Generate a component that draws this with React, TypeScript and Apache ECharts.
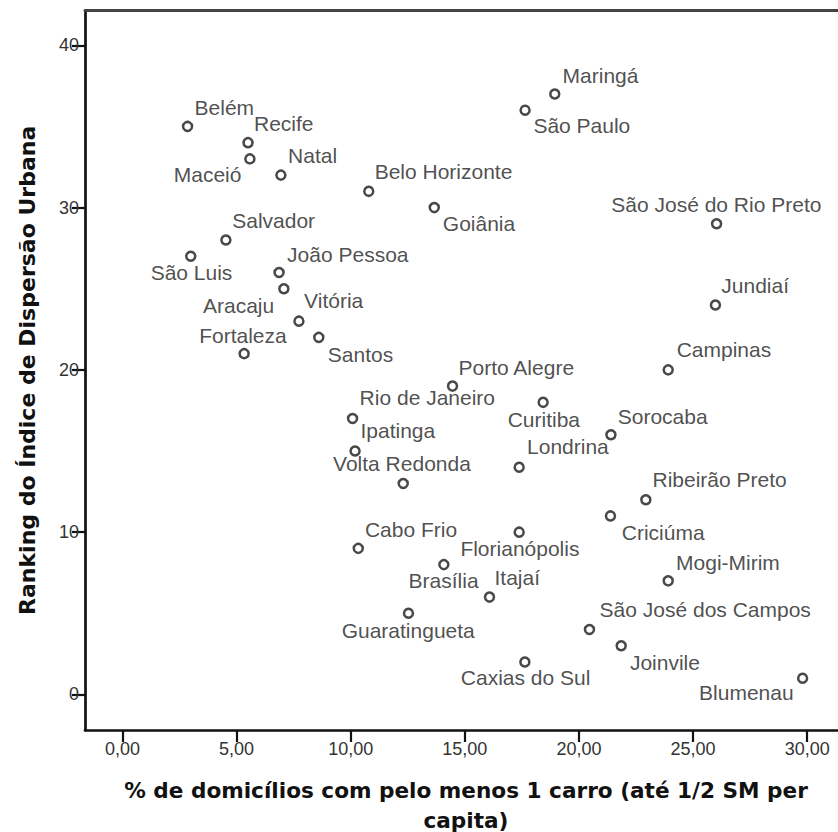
import React, { useEffect, useRef } from "react";
import * as echarts from "echarts";

const cities = [
  "Blumenau", "Caxias do Sul", "Joinvile", "São José dos Campos", "Guaratingueta",
  "Itajaí", "Mogi-Mirim", "Brasília", "Cabo Frio", "Florianópolis",
  "Criciúma", "Ribeirão Preto", "Volta Redonda", "Londrina", "Ipatinga",
  "Sorocaba", "Rio de Janeiro", "Curitiba", "Porto Alegre", "Campinas",
  "Fortaleza", "Santos", "Vitória", "Jundiaí", "Aracaju",
  "João Pessoa", "São Luis", "Salvador", "São José do Rio Preto", "Goiânia",
  "Belo Horizonte", "Natal", "Maceió", "Recife", "Belém",
  "São Paulo", "Maringá",
];

const pctCar = [
  29.80, 17.63, 21.85, 20.46, 12.53,
  16.08, 23.91, 14.08, 10.33, 17.38,
  21.38, 22.93, 12.30, 17.38, 10.19,
  21.40, 10.08, 18.43, 14.46, 23.91,
  5.33, 8.60, 7.73, 25.98, 7.07,
  6.86, 2.99, 4.53, 26.03, 13.66,
  10.79, 6.94, 5.58, 5.50, 2.85,
  17.64, 18.94,
];

const ranking = [
  1, 2, 3, 4, 5,
  6, 7, 8, 9, 10,
  11, 12, 13, 14, 15,
  16, 17, 18, 19, 20,
  21, 22, 23, 24, 25,
  26, 27, 28, 29, 30,
  31, 32, 33, 34, 35,
  36, 37,
];

const xTicks = [0, 5, 10, 15, 20, 25, 30];
const yTicks = [0, 10, 20, 30, 40];

// label placement (layout only): offset of label centre from point centre, px
const labelOffsets: [number, number][] = [
  [-55, 16], [2, 17], [45, 18], [117, -19], [1, 18],
  [29, -18], [61, -17], [1, 17], [54, -18], [2, 18],
  [54, 18], [75, -19], [0, -19], [50, -19], [44, -19],
  [53, -17], [76, -20], [2, 18], [65, -17], [57, -19],
  [0, -17], [43, 18], [36, -19], [41, -18], [-44, 18],
  [70, -17], [2, 17], [49, -18], [1, -18], [46, 17],
  [76, -19], [33, -18], [-41, 17], [37, -18], [38, -18],
  [58, 17], [47, -17],
];

const X_MIN = -1.643;
const X_MAX = 31.35;
const Y_MIN = -2.19;
const Y_MAX = 42.13;
const SYMBOL = 9;

export default function App() {
  const ref = useRef<HTMLDivElement>(null);

  useEffect(() => {
    document.body.style.margin = "0";
    if (!ref.current) return;
    const chart = echarts.init(ref.current, null, { renderer: "svg" });

    const data = cities.map((c, i) => ({
      name: c,
      value: [pctCar[i], ranking[i]],
      label: {
        position: [SYMBOL / 2 + labelOffsets[i][0], SYMBOL / 2 + labelOffsets[i][1]],
      },
    }));

    chart.setOption({
      animation: false,
      backgroundColor: "#ffffff",
      grid: {
        left: 85,
        right: 0,
        top: 10.7,
        bottom: 102,
        containLabel: false,
        outerBoundsMode: "none",
      },
      xAxis: [
        {
          type: "value",
          min: X_MIN,
          max: X_MAX,
          position: "bottom",
          name: "% de domicílios com pelo menos 1 carro (até 1/2 SM per\ncapita)",
          nameLocation: "middle",
          nameGap: 45,
          nameTextStyle: {
            fontFamily: "DejaVu Sans",
            fontWeight: "bold",
            fontSize: 21.6,
            color: "#111",
            lineHeight: 30,
            padding: [0, 0, 0, 9],
          },
          splitLine: { show: false },
          axisLine: { show: true, onZero: false, lineStyle: { color: "#111", width: 2.7 } },
          axisTick: { show: true, length: 12, lineStyle: { color: "#111", width: 2.2 }, customValues: xTicks },
          axisLabel: {
            customValues: xTicks,
            margin: 10,
            fontFamily: "Liberation Sans",
            fontSize: 18,
            color: "#333",
            formatter: (v: number) => v.toFixed(2).replace(".", ","),
          },
        },
        {
          type: "value",
          min: X_MIN,
          max: X_MAX,
          position: "top",
          splitLine: { show: false },
          axisLine: { show: true, onZero: false, lineStyle: { color: "#444", width: 3 } },
          axisTick: { show: false },
          axisLabel: { show: false },
        },
      ],
      yAxis: {
        type: "value",
        min: Y_MIN,
        max: Y_MAX,
        name: "Ranking do Índice de Dispersão Urbana",
        nameLocation: "middle",
        nameGap: 47,
        nameTextStyle: {
          fontFamily: "DejaVu Sans",
          fontWeight: "bold",
          fontSize: 22,
          color: "#111",
        },
        splitLine: { show: false },
        axisLine: { show: true, onZero: false, lineStyle: { color: "#111", width: 2.7 } },
        axisTick: { show: true, length: 13, lineStyle: { color: "#111", width: 2.2 }, customValues: yTicks },
        axisLabel: {
          customValues: yTicks,
          margin: 6,
          fontFamily: "Liberation Sans",
          fontSize: 18,
          color: "#333",
        },
      },
      series: [
        {
          type: "scatter",
          xAxisIndex: 0,
          symbol: "circle",
          symbolSize: SYMBOL,
          itemStyle: { color: "#ffffff", borderColor: "#1a1a1a", borderWidth: 2.5 },
          label: {
            show: true,
            formatter: "{b}",
            align: "center",
            verticalAlign: "middle",
            fontFamily: "Liberation Sans",
            fontSize: 21,
            color: "#222",
          },
          data,
        },
      ],
    });

    return () => chart.dispose();
  }, []);

  return <div ref={ref} style={{ width: 838, height: 832 }} />;
}
